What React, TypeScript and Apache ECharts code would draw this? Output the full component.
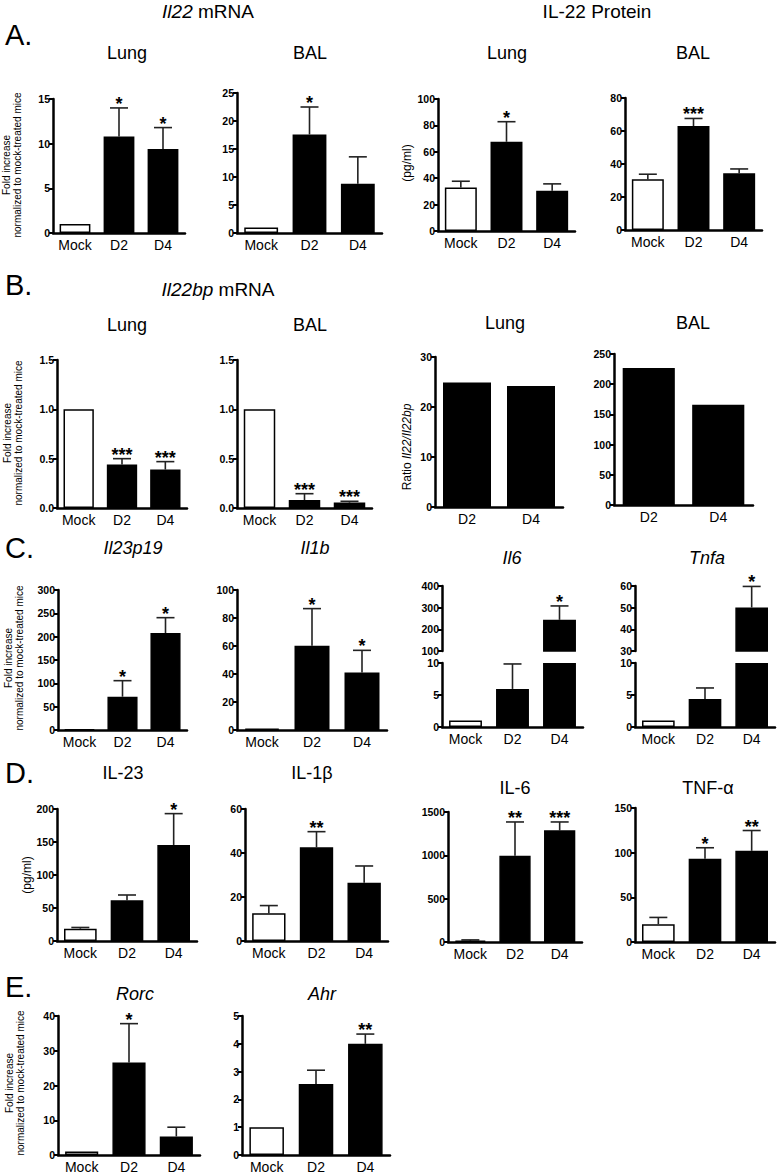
import React, { useEffect, useRef } from "react";
import * as echarts from "echarts";

const FONT = '"Liberation Sans", Arial, Helvetica, sans-serif';

// ---------- categories ----------
const cats = ["Mock", "D2", "D4"];
const ratioCats = ["D2", "D4"];

// ---------- A. Il22 mRNA ----------
const il22LungMean = [1, 10.8, 9.4];
const il22LungErr = [null, 14.0, 11.8];
const il22LungSig = ["", "*", "*"];
const il22BalMean = [1, 17.6, 8.8];
const il22BalErr = [null, 22.5, 13.6];
const il22BalSig = ["", "*", ""];

// ---------- A. IL-22 protein ----------
const il22ProtLungMean = [33, 67.6, 30.4];
const il22ProtLungErr = [37.7, 82.8, 35.7];
const il22ProtLungSig = ["", "*", ""];
const il22ProtBalMean = [30.8, 63.0, 34.4];
const il22ProtBalErr = [33.8, 67.6, 37.0];
const il22ProtBalSig = ["", "***", ""];

// ---------- B. Il22bp mRNA ----------
const il22bpLungMean = [1.0, 0.44, 0.39];
const il22bpLungErr = [null, 0.5, 0.47];
const il22bpLungSig = ["", "***", "***"];
const il22bpBalMean = [1.0, 0.08, 0.055];
const il22bpBalErr = [null, 0.145, 0.068];
const il22bpBalSig = ["", "***", "***"];

// ---------- B. ratio Il22/Il22bp ----------
const ratioLung = [24.9, 24.2];
const ratioBal = [227, 166];

// ---------- C. mRNA ----------
const il23p19Mean = [1, 71.4, 207.9];
const il23p19Err = [null, 105.7, 240.7];
const il23p19Sig = ["", "*", "*"];
const il1bMean = [1, 60.2, 41.0];
const il1bErr = [null, 86.7, 56.9];
const il1bSig = ["", "*", "*"];
const il6Mean = [1.0, 5.95, 244];
const il6Err = [null, 9.85, 308];
const il6Sig = ["", "", "*"];
const tnfaMean = [1.0, 4.36, 50.1];
const tnfaErr = [null, 6.1, 59.8];
const tnfaSig = ["", "", "*"];

// ---------- D. protein ----------
const il23ProtMean = [18.7, 61.6, 145.5];
const il23ProtErr = [20.5, 69.7, 193];
const il23ProtSig = ["", "", "*"];
const il1bProtMean = [12.6, 42.6, 26.5];
const il1bProtErr = [16.1, 49.7, 34.1];
const il1bProtSig = ["", "**", ""];
const il6ProtMean = [15, 996, 1288];
const il6ProtErr = [24, 1385, 1385];
const il6ProtSig = ["", "**", "***"];
const tnfProtMean = [20, 93.1, 102.1];
const tnfProtErr = [27.5, 105.5, 124.8];
const tnfProtSig = ["", "*", "**"];

// ---------- E. mRNA ----------
const rorcMean = [1, 26.6, 5.35];
const rorcErr = [null, 37.8, 8.0];
const rorcSig = ["", "*", ""];
const ahrMean = [1.0, 2.55, 4.0];
const ahrErr = [null, 3.05, 4.35];
const ahrSig = ["", "", "**"];

type Seg = { top: number; height: number; min: number; max: number; interval: number };
type Panel = {
  left: number;
  width: number;
  segs: Seg[]; // bottom segment last
  cats: string[];
  mean: number[];
  err?: (number | null)[];
  sig?: string[];
  decimals?: number;
  gap?: string;
};

const panels: Panel[] = [
  // A
  { left: 53, width: 132, segs: [{ top: 99, height: 134, min: 0, max: 15, interval: 5 }], cats, mean: il22LungMean, err: il22LungErr, sig: il22LungSig },
  { left: 237, width: 145, segs: [{ top: 93, height: 140, min: 0, max: 25, interval: 5 }], cats, mean: il22BalMean, err: il22BalErr, sig: il22BalSig },
  { left: 438, width: 137, segs: [{ top: 99, height: 132, min: 0, max: 100, interval: 20 }], cats, mean: il22ProtLungMean, err: il22ProtLungErr, sig: il22ProtLungSig },
  { left: 625, width: 137, segs: [{ top: 98, height: 132, min: 0, max: 80, interval: 20 }], cats, mean: il22ProtBalMean, err: il22ProtBalErr, sig: il22ProtBalSig },
  // B
  { left: 57, width: 130, segs: [{ top: 360, height: 148, min: 0, max: 1.5, interval: 0.5 }], cats, mean: il22bpLungMean, err: il22bpLungErr, sig: il22bpLungSig, decimals: 1 },
  { left: 237, width: 135, segs: [{ top: 360, height: 148, min: 0, max: 1.5, interval: 0.5 }], cats, mean: il22bpBalMean, err: il22bpBalErr, sig: il22bpBalSig, decimals: 1 },
  { left: 435, width: 128, segs: [{ top: 357, height: 150, min: 0, max: 30, interval: 10 }], cats: ratioCats, mean: ratioLung, gap: "25%" },
  { left: 614, width: 139, segs: [{ top: 354, height: 151, min: 0, max: 250, interval: 50 }], cats: ratioCats, mean: ratioBal, gap: "25%" },
  // C
  { left: 58, width: 129, segs: [{ top: 590, height: 140, min: 0, max: 300, interval: 50 }], cats, mean: il23p19Mean, err: il23p19Err, sig: il23p19Sig },
  { left: 237, width: 150, segs: [{ top: 590, height: 140, min: 0, max: 100, interval: 20 }], cats, mean: il1bMean, err: il1bErr, sig: il1bSig },
  {
    left: 442, width: 141,
    segs: [
      { top: 586, height: 65, min: 100, max: 400, interval: 100 },
      { top: 663, height: 64, min: 0, max: 10, interval: 5 },
    ],
    cats, mean: il6Mean, err: il6Err, sig: il6Sig,
  },
  {
    left: 635, width: 140,
    segs: [
      { top: 586, height: 65, min: 30, max: 60, interval: 10 },
      { top: 663, height: 64, min: 0, max: 10, interval: 5 },
    ],
    cats, mean: tnfaMean, err: tnfaErr, sig: tnfaSig,
  },
  // D
  { left: 57, width: 140, segs: [{ top: 809, height: 132, min: 0, max: 200, interval: 50 }], cats, mean: il23ProtMean, err: il23ProtErr, sig: il23ProtSig },
  { left: 245, width: 143, segs: [{ top: 809, height: 132, min: 0, max: 60, interval: 20 }], cats, mean: il1bProtMean, err: il1bProtErr, sig: il1bProtSig },
  { left: 448, width: 134, segs: [{ top: 812, height: 130, min: 0, max: 1500, interval: 500 }], cats, mean: il6ProtMean, err: il6ProtErr, sig: il6ProtSig },
  { left: 635, width: 140, segs: [{ top: 808, height: 134, min: 0, max: 150, interval: 50 }], cats, mean: tnfProtMean, err: tnfProtErr, sig: tnfProtSig },
  // E
  { left: 58, width: 142, segs: [{ top: 1016, height: 140, min: 0, max: 40, interval: 10 }], cats, mean: rorcMean, err: rorcErr, sig: rorcSig },
  { left: 242, width: 148, segs: [{ top: 1016, height: 141, min: 0, max: 5, interval: 1 }], cats, mean: ahrMean, err: ahrErr, sig: ahrSig },
];

function buildOption() {
  const grid: any[] = [];
  const xAxis: any[] = [];
  const yAxis: any[] = [];
  const series: any[] = [];

  panels.forEach((p) => {
    p.segs.forEach((s, si) => {
      const isBottom = si === p.segs.length - 1;
      const isTop = si === 0;
      const gi = grid.length;
      grid.push({ left: p.left, top: s.top, width: p.width, height: s.height, containLabel: false });
      xAxis.push({
        gridIndex: gi,
        type: "category",
        data: p.cats,
        axisLine: { show: isBottom, lineStyle: { color: "#000", width: 2.5 } },
        axisTick: { show: false },
        axisLabel: { show: isBottom, color: "#000", fontSize: 14, fontFamily: FONT, margin: 5, interval: 0 },
        splitLine: { show: false },
      });
      yAxis.push({
        gridIndex: gi,
        type: "value",
        min: s.min,
        max: s.max,
        interval: s.interval,
        axisLine: { show: true, lineStyle: { color: "#000", width: 2.5 } },
        axisTick: { show: true, length: 4, lineStyle: { color: "#000", width: 2 } },
        axisLabel: {
          color: "#000",
          fontSize: 10.5,
          fontWeight: "bold",
          fontFamily: FONT,
          margin: 3,
          formatter: (v: number) => (p.decimals ? v.toFixed(p.decimals) : String(v)),
        },
        splitLine: { show: false },
      });
      const lower = p.segs.length > 1 && !isTop;
      const upper = p.segs.length > 1 && isTop;
      series.push({
        type: "bar",
        xAxisIndex: gi,
        yAxisIndex: gi,
        silent: true,
        barCategoryGap: p.gap || "30%",
        clip: true,
        itemStyle: { borderColor: "#000", borderWidth: 1.5 },
        data: p.mean.map((v, j) => ({
          value: upper && v <= s.min ? "-" : lower ? Math.min(v, s.max) : v,
          itemStyle: { color: p.cats[j] === "Mock" ? "#fff" : "#000" },
        })),
      });
      if (p.err || p.sig) {
        const err = p.err || [];
        const sig = p.sig || [];
        series.push({
          type: "custom",
          xAxisIndex: gi,
          yAxisIndex: gi,
          silent: true,
          data: p.mean.map((m, j) => [j, m, err[j] == null ? m : (err[j] as number)]),
          renderItem: (params: any, api: any) => {
            const j = params.dataIndex;
            const m = api.value(1);
            const t = api.value(2);
            if (p.segs.length > 1) {
              const inSeg = upper ? t > s.min : t <= s.max;
              if (!inSeg) return { type: "group", children: [] };
            }
            const children: any[] = [];
            const base = api.coord([j, upper ? Math.max(m, s.min) : m]);
            const top = api.coord([j, t]);
            if (err[j] != null) {
              const hw = 9;
              children.push({
                type: "line",
                shape: { x1: base[0], y1: base[1], x2: top[0], y2: top[1] },
                style: { stroke: "#222", lineWidth: 1.6 },
              });
              children.push({
                type: "line",
                shape: { x1: top[0] - hw, y1: top[1], x2: top[0] + hw, y2: top[1] },
                style: { stroke: "#222", lineWidth: 1.6 },
              });
            }
            if (sig[j]) {
              children.push({
                type: "text",
                x: top[0],
                y: top[1] - 4,
                style: {
                  text: sig[j],
                  fill: "#000",
                  fontSize: 18,
                  fontWeight: "bold",
                  fontFamily: FONT,
                  align: "center",
                  verticalAlign: "middle",
                  textAlign: "center",
                  textVerticalAlign: "middle",
                },
              });
            }
            return { type: "group", children };
          },
        });
      }
    });
  });

  const txt = (
    x: number,
    y: number,
    text: string,
    size: number,
    opts: any = {}
  ) => ({
    type: "text",
    x,
    y,
    rotation: opts.rotation || 0,
    silent: true,
    style: {
      text,
      fill: "#000",
      fontSize: size,
      fontFamily: FONT,
      fontWeight: opts.weight || "normal",
      fontStyle: opts.italic ? "italic" : "normal",
      lineHeight: opts.lineHeight,
      align: opts.align || "center",
      verticalAlign: "middle",
      textAlign: opts.align || "center",
      textVerticalAlign: "middle",
      rich: opts.rich,
    },
  });

  const italicRich = (size: number) => ({ i: { fontStyle: "italic", fontSize: size, fontFamily: FONT, fill: "#000" } });
  const foldLabel = "Fold increase\nnormalized to mock-treated mice";
  const ROT = Math.PI / 2;

  const graphic = [
    // panel letters
    txt(5, 35, "A.", 29, { align: "left" }),
    txt(5, 285, "B.", 29, { align: "left" }),
    txt(5, 548, "C.", 29, { align: "left" }),
    txt(5, 773, "D.", 29, { align: "left" }),
    txt(5, 987, "E.", 29, { align: "left" }),
    // section titles
    txt(208, 11, "{i|Il22} mRNA", 19, { rich: italicRich(19) }),
    txt(597, 11, "IL-22 Protein", 19),
    txt(218, 289, "{i|Il22bp} mRNA", 19, { rich: italicRich(19) }),
    // A subtitles
    txt(127, 53, "Lung", 18),
    txt(310, 53, "BAL", 18),
    txt(507, 53, "Lung", 18),
    txt(693, 53, "BAL", 18),
    // B subtitles
    txt(127, 325, "Lung", 18),
    txt(310, 325, "BAL", 18),
    txt(505, 323, "Lung", 18),
    txt(693, 323, "BAL", 18),
    // C subtitles
    txt(133, 548, "Il23p19", 18, { italic: true }),
    txt(315, 548, "Il1b", 18, { italic: true }),
    txt(512, 558, "Il6", 18, { italic: true }),
    txt(707, 558, "Tnfa", 18, { italic: true }),
    // D subtitles
    txt(123, 773, "IL-23", 18),
    txt(312, 773, "IL-1\u03b2", 18),
    txt(515, 788, "IL-6", 18),
    txt(708, 788, "TNF-\u03b1", 18),
    // E subtitles
    txt(135, 994, "Rorc", 18, { italic: true }),
    txt(322, 994, "Ahr", 18, { italic: true }),
    // y-axis names
    txt(12, 165, foldLabel, 10, { rotation: ROT, lineHeight: 11 }),
    txt(407, 163, "(pg/ml)", 12, { rotation: ROT }),
    txt(13, 433, foldLabel, 10, { rotation: ROT, lineHeight: 11 }),
    txt(407, 447, "Ratio {i|Il22/Il22bp}", 12, { rotation: ROT, rich: italicRich(12) }),
    txt(14, 658, foldLabel, 10, { rotation: ROT, lineHeight: 11 }),
    txt(27, 875, "(pg/ml)", 12, { rotation: ROT }),
    txt(15, 1083, foldLabel, 10, { rotation: ROT, lineHeight: 11 }),
  ];

  return {
    animation: false,
    backgroundColor: "#fff",
    textStyle: { fontFamily: FONT },
    grid,
    xAxis,
    yAxis,
    series,
    graphic,
  };
}

export default function App() {
  const ref = useRef<HTMLDivElement>(null);
  useEffect(() => {
    if (!ref.current) return;
    const chart = echarts.init(ref.current, null, { renderer: "svg" });
    chart.setOption(buildOption() as any);
    return () => chart.dispose();
  }, []);
  return (
    <div
      ref={ref}
      style={{ position: "absolute", left: 0, top: 0, width: 777, height: 1174, background: "#fff" }}
    />
  );
}
